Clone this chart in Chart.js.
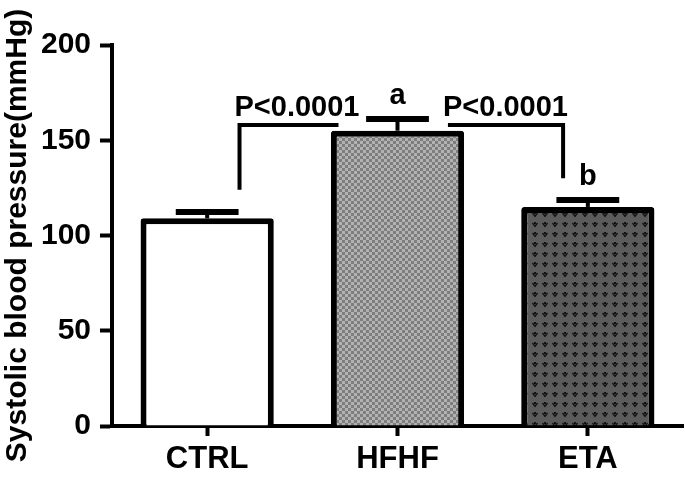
<!DOCTYPE html>
<html>
<head>
<meta charset="utf-8">
<script src="https://cdn.jsdelivr.net/npm/chart.js@4"></script>
<style>
  html, body { margin: 0; padding: 0; background: #fff; }
  #wrap { width: 685px; height: 482px; }
</style>
</head>
<body>
<div id="wrap"><canvas id="bp" width="685" height="482"></canvas></div>
<script>
'use strict';

// ── data ──
const groups   = ['CTRL', 'HFHF', 'ETA'];
const means    = [109, 155, 115];
const sem      = [3.3, 6.2, 3.6];
const yTicks   = [0, 50, 100, 150, 200];
const pLabels  = ['P<0.0001', 'P<0.0001'];
const letters  = ['', 'a', 'b'];

const FONT = "'Liberation Sans', Arial, sans-serif";

// fill patterns for the bars
function checkerPattern() {
    const c = document.createElement('canvas');
    c.width = 6; c.height = 6;
    const g = c.getContext('2d');
    g.fillStyle = '#b2b2b2'; g.fillRect(0, 0, 6, 6);
    g.fillStyle = '#7e7e7e'; g.fillRect(0, 0, 3, 3); g.fillRect(3, 3, 3, 3);
    return g.createPattern(c, 'repeat');
}
function vPattern() {
    const c = document.createElement('canvas');
    c.width = 10; c.height = 10;
    const g = c.getContext('2d');
    g.fillStyle = '#5c5c5c'; g.fillRect(0, 0, 10, 10);
    g.strokeStyle = '#111'; g.lineWidth = 1.3;
    g.beginPath(); g.moveTo(2.5, 3); g.lineTo(5, 6.5); g.lineTo(7.5, 3); g.stroke();
    g.fillStyle = '#111';
    g.fillRect(4, 2, 2, 2);
    return g.createPattern(c, 'repeat');
}

// error bars, brackets and labels
const annot = {
    id: 'annot',
    afterDatasetsDraw(chart) {
        const { ctx, scales: { x, y } } = chart;
        const cat = x.getPixelForValue(1) - x.getPixelForValue(0);
        const capHalf = 0.165 * cat;
        ctx.save();
        ctx.strokeStyle = '#000';
        ctx.fillStyle = '#000';
        const capTops = [];
        means.forEach((m, i) => {
            const cx = x.getPixelForValue(i);
            const top = y.getPixelForValue(m + sem[i]);
            ctx.lineWidth = 4;
            ctx.beginPath(); ctx.moveTo(cx, y.getPixelForValue(m)); ctx.lineTo(cx, top); ctx.stroke();
            ctx.lineWidth = 6;
            ctx.beginPath(); ctx.moveTo(cx - capHalf, top); ctx.lineTo(cx + capHalf, top); ctx.stroke();
            capTops.push(top - 3);
        });

        // brackets
        const yB = y.getPixelForValue(158);
        ctx.lineWidth = 4;
        ctx.lineJoin = 'miter';
        const x1 = x.getPixelForValue(0) + 0.17 * cat, x2 = x.getPixelForValue(1) - 0.31 * cat;
        ctx.beginPath();
        ctx.moveTo(x1, y.getPixelForValue(124)); ctx.lineTo(x1, yB); ctx.lineTo(x2, yB);
        ctx.stroke();
        const x3 = x.getPixelForValue(1) + 0.265 * cat, x4 = x.getPixelForValue(2) - 0.13 * cat;
        ctx.beginPath();
        ctx.moveTo(x3, yB); ctx.lineTo(x4, yB); ctx.lineTo(x4, y.getPixelForValue(130));
        ctx.stroke();

        ctx.font = 'bold 29px ' + FONT;
        ctx.textAlign = 'center';
        ctx.textBaseline = 'alphabetic';
        ctx.fillText(pLabels[0], (x1 + x2) / 2 + 8, yB - 9);
        ctx.fillText(pLabels[1], (x3 + x4) / 2, yB - 9);

        letters.forEach((t, i) => {
            if (!t) return;
            ctx.fillText(t, x.getPixelForValue(i), capTops[i] - 12);
        });
        ctx.restore();
    }
};

new Chart(document.getElementById('bp'), {
    type: 'bar',
    data: {
        labels: groups,
        datasets: [{
            data: means,
            backgroundColor: ['#ffffff', checkerPattern(), vPattern()],
            borderColor: '#000',
            borderWidth: 6,
            borderRadius: 3,
            barPercentage: 0.7,
            categoryPercentage: 1.0
        }]
    },
    options: {
        responsive: false,
        animation: false,
        layout: { padding: { top: 45, right: 2, bottom: 0, left: 0 } },
        plugins: { legend: { display: false }, tooltip: { enabled: false } },
        scales: {
            x: {
                afterFit: s => { s.height = 56; },
                grid: { display: true, drawOnChartArea: false, offset: false,
                        tickLength: 10, tickWidth: 4, tickColor: '#000' },
                border: { display: true, color: '#000', width: 4 },
                ticks: { color: '#000', padding: 5, font: { family: FONT, size: 31, weight: 'bold' } }
            },
            y: {
                min: 0, max: 200,
                afterBuildTicks: s => { s.ticks = yTicks.map(v => ({ value: v })); },
                afterFit: s => { s.width = 112; },
                grid: { display: true, drawOnChartArea: false,
                        tickLength: 12, tickWidth: 4, tickColor: '#000' },
                border: { display: true, color: '#000', width: 4 },
                ticks: { color: '#000', padding: 9, font: { family: FONT, size: 30, weight: 'bold' } },
                title: {
                    display: true,
                    text: 'Systolic blood pressure(mmHg)',
                    color: '#000',
                    padding: 0,
                    font: { family: FONT, size: 30, weight: 'bold' }
                }
            }
        }
    },
    plugins: [annot]
});
</script>
</body>
</html>
